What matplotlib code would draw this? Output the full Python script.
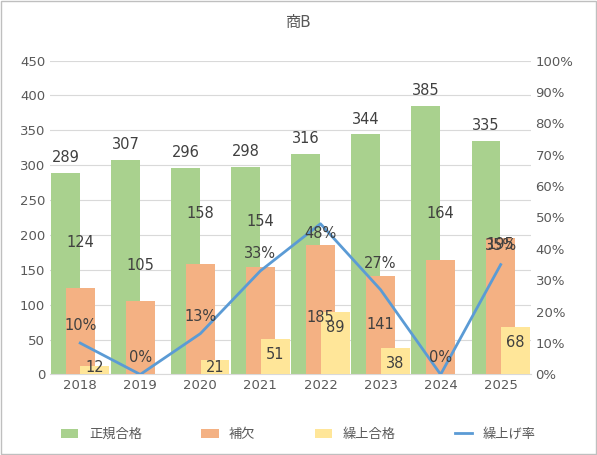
import matplotlib
matplotlib.use("Agg")
import matplotlib.pyplot as plt
import numpy as np

plt.rcParams['font.family'] = ['DejaVu Sans', 'Noto Sans CJK JP']

years = ['2018', '2019', '2020', '2021', '2022', '2023', '2024', '2025']
seiki = [289, 307, 296, 298, 316, 344, 385, 335]
hoketsu = [124, 105, 158, 154, 185, 141, 164, 195]
kuriage = [12, 0, 21, 51, 89, 38, 0, 68]
rate = [10, 0, 13, 33, 48, 27, 0, 35]

# label placement (centre positions, style only)
hoketsu_lbl_y = [189, 156, 231, 219, 81, 71, 231, 186]
rate_lbl_dy = [5.5, 5.5, 5.5, 5.5, -3, 8.5, 5.5, 6]

fig = plt.figure(figsize=(5.97, 4.55), dpi=100)
fig.patches.append(plt.Rectangle((0.002, 0.002), 0.996, 0.996, transform=fig.transFigure,
                                 fill=False, edgecolor='#BFBFBF', lw=1))
ax = fig.add_axes([0.084, 0.177, 0.805, 0.69])
x = np.arange(len(years))
w = 0.48
c_g, c_o, c_y, c_l = '#A9D18E', '#F4B183', '#FFE699', '#5B9BD5'
b1 = ax.bar(x - 0.245, seiki, w, color=c_g, zorder=2)
b2 = ax.bar(x, hoketsu, w, color=c_o, zorder=3)
b3 = ax.bar(x + 0.245, kuriage, w, color=c_y, zorder=4)
fs = 10.5
tc = '#404040'
for b, v in zip(b1, seiki):
    ax.text(b.get_x() + b.get_width() / 2, v + 22, str(v), ha='center', va='center', fontsize=fs, color=tc, zorder=10)
for b, v, ly in zip(b2, hoketsu, hoketsu_lbl_y):
    ax.text(b.get_x() + b.get_width() / 2, ly, str(v), ha='center', va='center', fontsize=fs, color=tc, zorder=10)
for b, v in zip(b3, kuriage):
    if v == 0:
        continue
    ax.text(b.get_x() + b.get_width() / 2, max(v - 22, 10), str(v), ha='center', va='center', fontsize=fs, color=tc, zorder=10)
ax.set_ylim(0, 450)
ax.set_yticks(range(0, 451, 50))
ax.set_xlim(-0.5, 7.5)
ax.set_xticks(x)
ax.set_xticklabels(years)
ax.grid(axis='y', color='#D9D9D9', lw=0.8, zorder=0)
for s in ax.spines.values():
    s.set_visible(False)
ax.spines['bottom'].set_visible(True)
ax.spines['bottom'].set_color('#D9D9D9')
ax.tick_params(length=0, labelsize=9.5, colors='#595959')

ax2 = ax.twinx()
ln, = ax2.plot(x, rate, color=c_l, lw=2, zorder=5)
ax2.set_ylim(0, 100)
ax2.set_yticks(range(0, 101, 10))
ax2.set_yticklabels([f'{v}%' for v in range(0, 101, 10)])
for s in ax2.spines.values():
    s.set_visible(False)
ax2.tick_params(length=0, labelsize=9.5, colors='#595959')
for xi, r, d in zip(x, rate, rate_lbl_dy):
    ax2.text(xi, r + d, f'{r}%', ha='center', va='center', fontsize=fs, color=tc, zorder=10)

fig.text(0.5, 0.95, '商B', ha='center', va='center', fontsize=11, color='#595959')
fig.legend([b1, b2, b3, ln], ['正規合格', '補欠', '繰上合格', '繰上げ率'], loc='center',
           bbox_to_anchor=(0.5, 0.045), ncol=4, frameon=False, fontsize=9.5,
           labelcolor='#595959', columnspacing=4.5, handlelength=1.3)
fig.savefig('out.png', dpi=100)
